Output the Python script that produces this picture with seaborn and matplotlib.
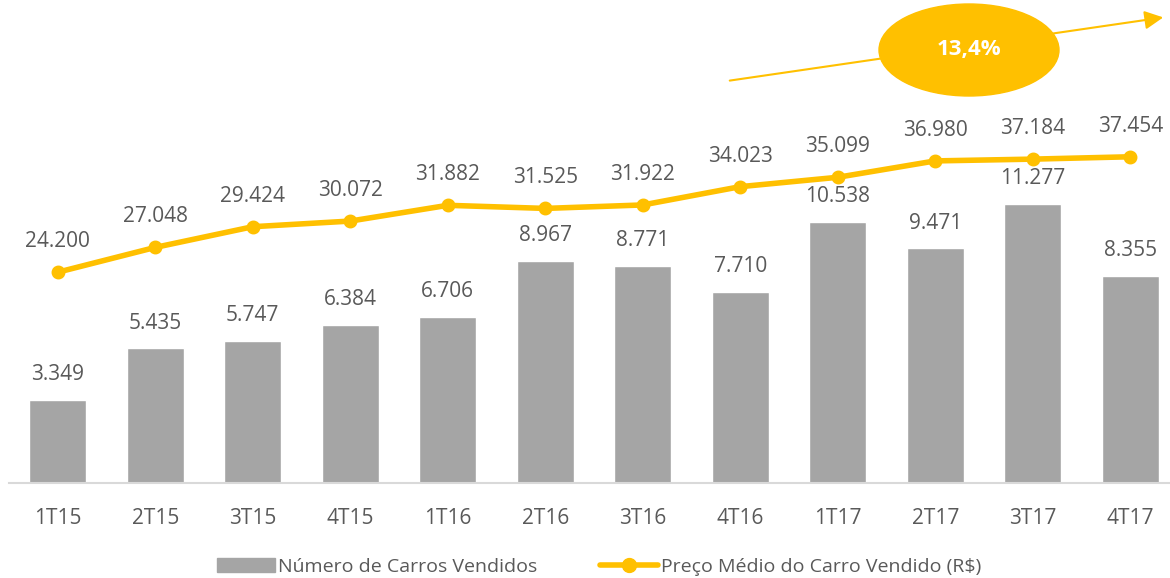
import matplotlib
matplotlib.use("Agg")
import matplotlib.pyplot as plt
import seaborn as sns
from matplotlib.patches import Ellipse, Patch, FancyArrowPatch
from matplotlib.lines import Line2D

quarters = ["1T15", "2T15", "3T15", "4T15", "1T16", "2T16", "3T16", "4T16", "1T17", "2T17", "3T17", "4T17"]
cars_sold = [3349, 5435, 5747, 6384, 6706, 8967, 8771, 7710, 10538, 9471, 11277, 8355]
avg_price = [24200, 27048, 29424, 30072, 31882, 31525, 31922, 34023, 35099, 36980, 37184, 37454]
growth_label = "13,4%"
legend_labels = ["Número de Carros Vendidos", "Preço Médio do Carro Vendido (R$)"]

def fmt(v):
    return f"{v:,}".replace(",", ".")

sns.set_theme(style="white")
plt.rcParams["font.family"] = ["Open Sans", "DejaVu Sans"]

GRAY = "#A5A5A5"
GOLD = "#FFC000"
TXT = "#595959"
FS = 15

fig = plt.figure(figsize=(11.7, 5.78), dpi=100)
ax = fig.add_axes([9 / 1170, 95 / 578, 1170 / 1170, 343 / 578])

sns.barplot(x=quarters, y=cars_sold, ax=ax, color=GRAY, width=0.58, saturation=1)
ax.set_ylim(0, 13850)
ax.set_xlim(-0.5, 11.5)
for i, v in enumerate(cars_sold):
    ax.text(i, v + 600, fmt(v), ha="center", va="bottom", fontsize=FS, color=TXT)

ax2 = ax.twinx()
sns.pointplot(x=quarters, y=avg_price, ax=ax2, color=GOLD, markersize=7, linewidth=4)
ax2.set_ylim(0, 39380)
ax2.set_xlim(-0.5, 11.5)
for i, v in enumerate(avg_price):
    ax2.text(i, v + 2300, fmt(v), ha="center", va="bottom", fontsize=FS, color=TXT)

for a in (ax, ax2):
    a.set_yticks([])
    a.set_ylabel("")
    a.set_xlabel("")
    for s in ("top", "left", "right"):
        a.spines[s].set_visible(False)
    a.grid(False)
ax.spines["bottom"].set_color("#D9D9D9")
ax.spines["bottom"].set_linewidth(1.5)
ax2.spines["bottom"].set_visible(False)
ax.tick_params(axis="x", labelsize=FS, labelcolor=TXT, length=0, pad=18)

# growth arrow + ellipse (figure coordinates)
fig.patches.append(FancyArrowPatch(
    (727 / 1170, 1 - 81 / 578), (1166 / 1170, 1 - 17 / 578),
    transform=fig.transFigure, arrowstyle="-|>", mutation_scale=28,
    color=GOLD, lw=1.5))
fig.patches.append(Ellipse((969 / 1170, 1 - 50 / 578), 180 / 1170, 92 / 578,
                           transform=fig.transFigure, color=GOLD, zorder=5))
fig.text(969 / 1170, 1 - 50 / 578, growth_label, ha="center", va="center",
         fontsize=16, fontweight="bold", color="white", zorder=6)

handles = [Patch(color=GRAY),
           Line2D([0], [0], color=GOLD, lw=4, marker="o", markersize=10)]
fig.legend(handles, legend_labels, loc="center", bbox_to_anchor=(0.512, 1 - 567 / 578),
           ncol=2, frameon=False, fontsize=14, labelcolor=TXT, handlelength=3.0,
           handletextpad=0.15, columnspacing=3.2)

fig.savefig("out.png", dpi=100)
